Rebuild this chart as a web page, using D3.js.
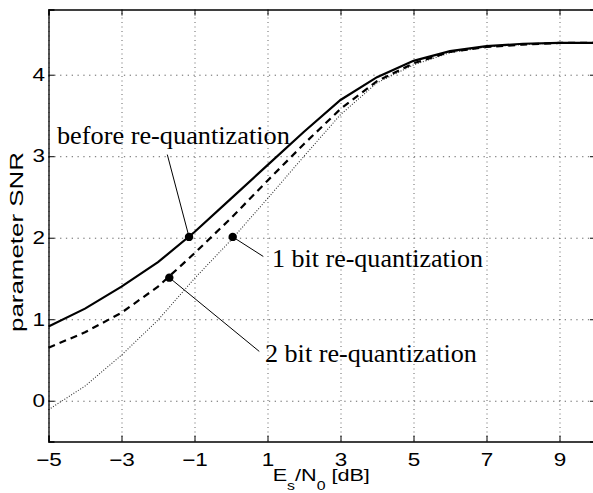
<html lang="en">
  <head>
    <meta charset="UTF-8">
    <title>parameter SNR vs Es/N0</title>
    <script src="https://d3js.org/d3.v7.min.js"></script>
    <style>
body, html {
  margin: 0;
  padding: 0;
  background: white;
  overflow: hidden;
}
svg {
  display: block;
  font-family: "Liberation Sans", Arial, sans-serif;
}
.tick line { stroke: #000; }
.grid line { stroke: #555; stroke-width: 0.9; }
.grid path { display: none; }
    </style>
  </head>
  <body>
    <svg></svg>
    <script>
      // E_s/N_0 [dB] sample points
      const esn0 = [-5, -4, -3, -2, -1, 0, 1, 2, 3, 4, 5, 6, 7, 8, 9, 10];
      // parameter SNR
      const snrBefore = [0.91, 1.13, 1.40, 1.70, 2.07, 2.48, 2.89, 3.30, 3.69, 3.97, 4.17, 4.29, 4.35, 4.38, 4.39, 4.39];
      const snr2bit   = [0.65, 0.84, 1.08, 1.40, 1.81, 2.24, 2.70, 3.15, 3.58, 3.92, 4.14, 4.28, 4.34, 4.37, 4.39, 4.39];
      const snr1bit   = [-0.11, 0.18, 0.56, 0.99, 1.50, 1.97, 2.48, 3.00, 3.51, 3.90, 4.12, 4.27, 4.34, 4.37, 4.39, 4.39];

      const xTicks = [-5, -3, -1, 1, 3, 5, 7, 9];
      const yTicks = [0, 1, 2, 3, 4];

      // annotation: marker on curve, end of leader line, text start (data units)
      const notes = [
        { label: "before re-quantization", dot: [-1.15, 2.01], end: [-1.745, 3.02], at: [-4.77, 3.15], width: 233 },
        { label: "1 bit re-quantization", dot: [0.047, 2.01], end: [0.885, 1.77], at: [1.123, 1.64], width: 211 },
        { label: "2 bit re-quantization", dot: [-1.69, 1.51], end: [0.775, 0.605], at: [0.93, 0.48], width: 212 }
      ];

      const width = 593, height = 493;
      const mLeft = 48.5, mRight = 596, mTop = 9.5, mBottom = 441.5;

      const svg = d3.select("svg").attr("width", width).attr("height", height);

      const x = d3.scaleLinear().domain([-5, 10]).range([mLeft, mRight]);
      const y = d3.scaleLinear().domain([-0.5, 4.8]).range([mBottom, mTop]);

      // the picture is wider than its fonts: widen text about its anchor
      function stretch(sel, k) {
        sel.each(function() {
          const ax = +this.getAttribute("x") || 0;
          d3.select(this).attr("transform", `translate(${ax},0) scale(${k},1) translate(${-ax},0)`);
        });
      }

      // grid
      svg.append("g").attr("class", "grid")
        .attr("transform", `translate(0,${mBottom})`)
        .call(d3.axisBottom(x).tickValues(xTicks).tickSize(-(mBottom - mTop)).tickFormat(""))
        .selectAll("line").attr("stroke-dasharray", "1,3.5");
      svg.append("g").attr("class", "grid")
        .attr("transform", `translate(${mLeft},0)`)
        .call(d3.axisLeft(y).tickValues(yTicks).tickSize(-(mRight - mLeft)).tickFormat(""))
        .selectAll("line").attr("stroke-dasharray", "1.3,4.5");

      // curves
      const line = d3.line().x((d, i) => x(esn0[i])).y(d => y(d));
      svg.append("path").datum(snr1bit)
        .attr("d", line).attr("fill", "none")
        .attr("stroke", "#333").attr("stroke-width", 1.1).attr("stroke-dasharray", "1,1.7");
      svg.append("path").datum(snr2bit)
        .attr("d", line).attr("fill", "none")
        .attr("stroke", "#000").attr("stroke-width", 2.2).attr("stroke-dasharray", "7,5");
      svg.append("path").datum(snrBefore)
        .attr("d", line).attr("fill", "none")
        .attr("stroke", "#000").attr("stroke-width", 2.2);

      // frame + inward ticks
      const xb = svg.append("g").attr("transform", `translate(0,${mBottom})`)
        .call(d3.axisBottom(x).tickValues(xTicks).tickSize(-6).tickPadding(11.5).tickFormat(d3.format("d")));
      const yl = svg.append("g").attr("transform", `translate(${mLeft},0)`)
        .call(d3.axisLeft(y).tickValues(yTicks).tickSize(-6).tickPadding(3.5).tickFormat(d3.format("d")));
      svg.append("g").attr("transform", `translate(0,${mTop})`)
        .call(d3.axisTop(x).tickValues(xTicks).tickSize(-6).tickFormat(""));
      svg.append("g").attr("transform", `translate(${mRight},0)`)
        .call(d3.axisRight(y).tickValues(yTicks).tickSize(-6).tickFormat(""));
      svg.selectAll(".domain").attr("stroke", "#000").attr("stroke-width", 1.3);

      [xb, yl].forEach(g => {
        g.selectAll("text")
          .attr("fill", "#000")
          .style("font-family", "'Liberation Sans', Arial, sans-serif")
          .style("font-size", "18px");
        stretch(g.selectAll("text"), 1.25);
      });

      // axis labels
      const xl = svg.append("text")
        .attr("x", 272.7).attr("y", 481)
        .style("font-size", "17px");
      xl.append("tspan").text("E");
      xl.append("tspan").attr("dy", 9).style("font-size", "12.5px").text("s");
      xl.append("tspan").attr("dy", -9).text("/N");
      xl.append("tspan").attr("dy", 9).style("font-size", "12.5px").text("0");
      xl.append("tspan").attr("dy", -9).text(" [dB]");
      stretch(xl, 1.27);

      svg.append("text")
        .attr("transform", "translate(22.7,242) rotate(-90)")
        .attr("text-anchor", "middle")
        .style("font-size", "19px")
        .attr("textLength", 180).attr("lengthAdjust", "spacingAndGlyphs")
        .text("parameter SNR");

      // annotations
      const ann = svg.append("g");
      ann.selectAll("line").data(notes).join("line")
        .attr("x1", d => x(d.dot[0])).attr("y1", d => y(d.dot[1]))
        .attr("x2", d => x(d.end[0])).attr("y2", d => y(d.end[1]))
        .attr("stroke", "#000").attr("stroke-width", 1);
      ann.selectAll("circle").data(notes).join("circle")
        .attr("cx", d => x(d.dot[0])).attr("cy", d => y(d.dot[1]))
        .attr("r", 4.2).attr("fill", "#000");
      ann.selectAll("text").data(notes).join("text")
        .attr("x", d => x(d.at[0])).attr("y", d => y(d.at[1]))
        .style("font-family", "'Liberation Serif', 'Times New Roman', serif")
        .style("font-size", "24.5px")
        .attr("textLength", d => d.width).attr("lengthAdjust", "spacingAndGlyphs")
        .text(d => d.label);
    </script>
  </body>
</html>
